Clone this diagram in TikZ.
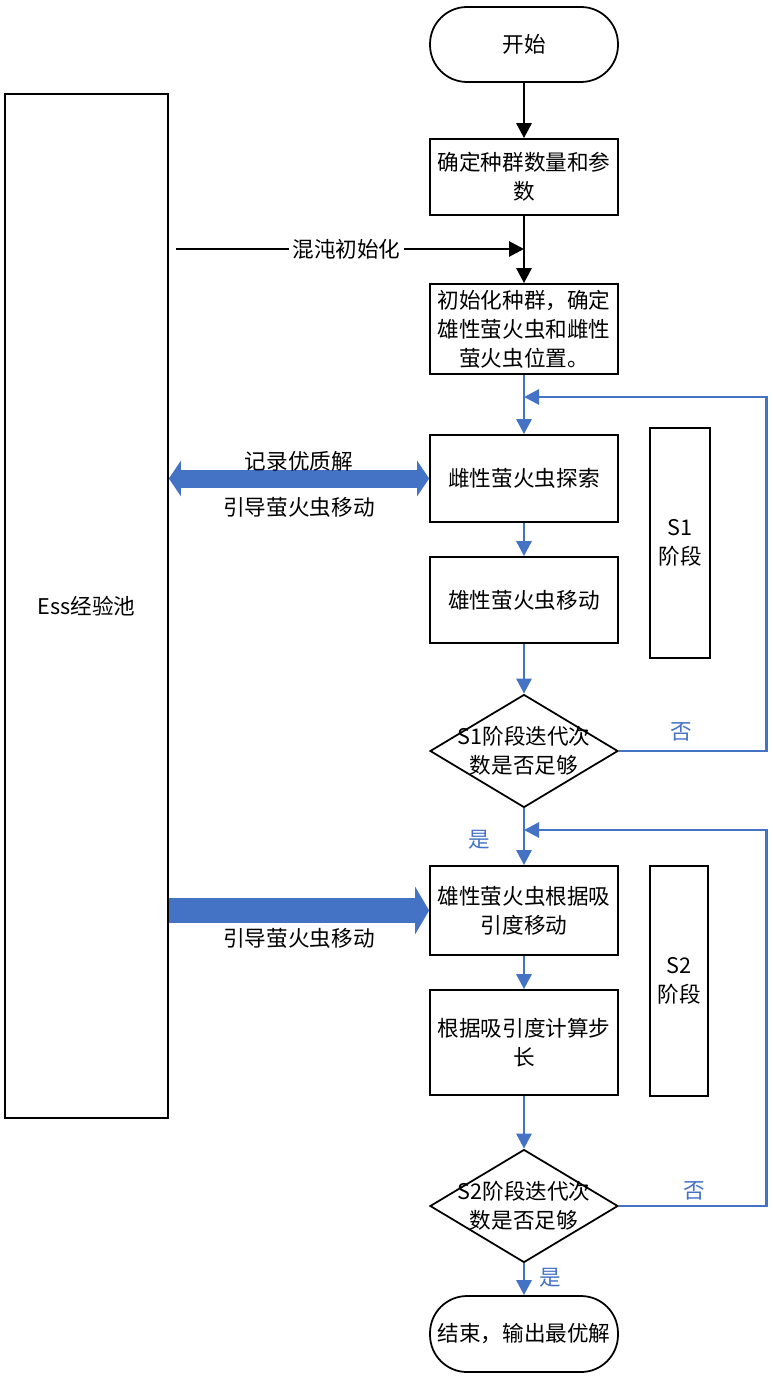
\documentclass[tikz,border=0pt]{standalone}
\usepackage{fontspec}
\setmainfont{Noto Sans CJK SC}
\usetikzlibrary{shapes.geometric,arrows.meta}
\definecolor{flowblue}{HTML}{4472C4}

\begin{document}
\begin{tikzpicture}[x=0.02cm,y=-0.02cm,>={Triangle[length=3mm,width=3mm]},
        font=\fontsize{12.3}{16.5}\selectfont,
        box/.style={draw, rectangle, line width=1pt, minimum width=3.76cm, align=center},
        term/.style={draw, rectangle, rounded corners=0.74cm, line width=1pt, minimum width=3.76cm, minimum height=1.5cm},
        decision/.style={draw, diamond, line width=1pt, minimum width=3.76cm, minimum height=2.26cm, inner sep=0pt},
        stage/.style={draw, rectangle, line width=1pt, minimum width=1.2cm, minimum height=4.6cm, align=center},
        flow/.style={->, line width=1.6pt},
        blueflow/.style={->, line width=1.6pt, flowblue},
        fatboth/.style={line width=0.36cm, flowblue, arrows={{Triangle[length=2.4mm,width=7mm]}-{Triangle[length=2.4mm,width=7mm]}}},
        fatone/.style={line width=0.5cm, flowblue, arrows={-{Triangle[length=2.8mm,width=9.4mm]}}}]
        \useasboundingbox (0,0) rectangle (772,1378);

        % main column
        \node (start) [term] at (524,44.5) {开始};
        \node (setup) [box, minimum height=1.52cm] at (524,177) {确定种群数量和参\\数};
        \node (init) [box, minimum height=1.72cm] at (524,329) {初始化种群，确定\\雄性萤火虫和雌性\\萤火虫位置。};
        \node (female) [box, minimum height=1.74cm] at (524,478.5) {雌性萤火虫探索};
        \node (male) [box, minimum height=1.72cm] at (524,600) {雄性萤火虫移动};
        \node (check1) [decision, label={[align=center]center:S1阶段迭代次\\数是否足够}] at (524,751) {};
        \node (attract) [box, minimum height=1.78cm] at (524,910.5) {雄性萤火虫根据吸\\引度移动};
        \node (stepsize) [box, minimum height=2.1cm] at (524,1042.5) {根据吸引度计算步\\长};
        \node (check2) [decision, label={[align=center]center:S2阶段迭代次\\数是否足够}] at (524,1206) {};
        \node (finish) [term, minimum height=1.52cm] at (524,1334) {结束，输出最优解};

        % stages and pool
        \node (stage1) [stage] at (680,543) {S1\\阶段};
        \node (stage2) [stage, minimum width=1.16cm] at (679,981) {S2\\阶段};
        \node (pool) [draw, rectangle, line width=1pt, minimum width=3.26cm, minimum height=20.48cm] at (86.5,606) {Ess经验池};

        \coordinate (chaos) at (524,249);
        \coordinate (loop1) at (524,397);
        \coordinate (loop2) at (524,830);

        \draw[flow] (start) -- (setup);
        \draw[flow] (setup) -- (init);
        \draw[flow, shorten <=4pt] (pool.east |- chaos) -- node[fill=white, inner sep=2pt]{混沌初始化} (chaos);

        \draw[blueflow] (init) -- (female);
        \draw[blueflow] (female) -- (male);
        \draw[blueflow] (male) -- (check1);
        \draw[blueflow] (check1) -- node[pos=0.55, left=0.53cm, text=flowblue]{是} (attract);
        \draw[blueflow] (attract) -- (stepsize);
        \draw[blueflow] (stepsize) -- (check2);
        \draw[blueflow] (check2) -- node[pos=0.45, right=0.17cm, text=flowblue]{是} (finish);

        \draw[blueflow] (check1.east) -- node[pos=0.42, yshift=0.38cm, text=flowblue]{否} ++(148,0) |- (loop1);
        \draw[blueflow] (check2.east) -- node[pos=0.51, yshift=0.3cm, text=flowblue]{否} ++(148,0) |- (loop2);

        \draw[fatboth] (pool.east |- female.west) -- node[yshift=0.34cm, text=black]{记录优质解} node[yshift=-0.58cm, text=black]{引导萤火虫移动} (female.west);
        \draw[fatone] (pool.east |- attract.west) -- node[yshift=-0.56cm, text=black]{引导萤火虫移动} (attract.west);
    \end{tikzpicture}
\end{document}
